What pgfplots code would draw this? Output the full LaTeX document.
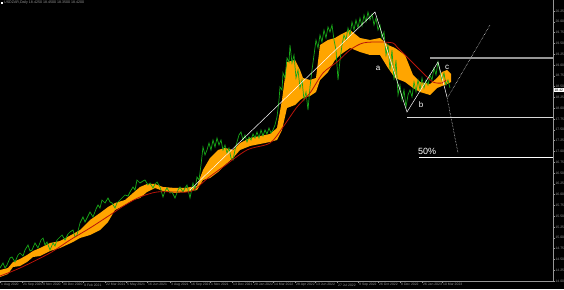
\documentclass[border=0pt]{standalone}
\usepackage{pgfplots}
\pgfplotsset{compat=1.18}
\usepackage{fontspec}
\setmainfont{Liberation Sans}
\definecolor{mtgreen}{RGB}{24,168,24}
\definecolor{mtorange}{RGB}{255,165,0}
\definecolor{mtred}{RGB}{185,20,10}
\definecolor{mtgrey}{RGB}{150,150,150}
\begin{document}
\begin{tikzpicture}
\fill[black] (0pt,0pt) rectangle (564pt,289pt);
\node[anchor=north west, inner sep=0pt, font=\fontsize{3.6}{4}\selectfont, text=mtgrey] at (1pt,288pt) {\textcolor{white}{\rule{2pt}{2pt}} USDZAR,Daily 18.4250 18.4500 18.3500 18.4200};
\begin{axis}[at={(0pt,8pt)}, anchor=south west, width=553pt, height=281pt, scale only axis,
  xmin=0, xmax=553, ymin=-281, ymax=0, clip=false,
  axis x line*=bottom, axis y line*=right,
  axis line style={mtgrey, line width=0.6pt},
  tick style={mtgrey, line width=0.4pt}, major tick length=2pt, tick align=outside,
  xtick={0,22,42,62,83,105,126,147,170,190,210,232,253,273,295,315,337,358,378,400,422,442},
  xticklabels={1 Aug 2020,21 Sep 2020,9 Nov 2020,30 Dec 2020,9 Feb 2021,22 Mar 2021,5 May 2021,16 Jun 2021,3 Aug 2021,16 Sep 2021,1 Nov 2021,13 Dec 2021,28 Jan 2022,14 Mar 2022,28 Apr 2022,13 Jun 2022,27 Jul 2022,9 Sep 2022,26 Oct 2022,8 Dec 2022,26 Jan 2023,10 Mar 2023},
  xticklabel style={font=\fontsize{3.4}{4}\selectfont, text=mtgrey, anchor=north west, inner sep=0.4pt, xshift=0.6pt},
  ytick={-281,-270.2,-259.4,-248.6,-237.8,-227,-216.2,-205.4,-194.6,-183.8,-173,-162.2,-151.4,-140.6,-129.8,-119,-108.2,-97.4,-86.6,-75.8,-65,-54.2,-43.4,-32.6,-21.8,-11},
  yticklabels={14.00,14.25,14.50,14.75,15.00,15.25,15.50,15.75,16.00,16.25,16.50,16.75,17.00,17.25,17.50,17.75,18.00,18.25,18.50,18.75,19.00,19.25,19.50,19.75,20.00,20.25},
  yticklabel style={font=\fontsize{3.4}{4}\selectfont, text=mtgrey, anchor=west, inner sep=0.4pt},
]
% cloud: upper edge left to right, then lower edge right to left
\addplot[fill=mtorange, draw=none] coordinates {(0,-270)(8,-268)(13,-262)(20,-259)(27,-255)(33,-251)(40,-248)(50,-243)(60,-241)(73,-234)(80,-230)(90,-220)(100,-213)(108,-207)(115,-203)(125,-200)(133,-193)(140,-187)(147,-184)(155,-184)(163,-187)(175,-188)(185,-188)(197,-186)(203,-170)(210,-158)(218,-150)(225,-148)(233,-150)(240,-143)(250,-138)(260,-136)(270,-134)(277,-128)(282,-100)(287,-62)(295,-60)(300,-70)(303,-78)(310,-80)(316,-78)(320,-45)(328,-40)(335,-38)(340,-35)(350,-30)(360,-38)(370,-40)(380,-38)(388,-45)(395,-48)(405,-55)(413,-75)(420,-82)(430,-84)(437,-78)(442,-72)(447,-70)(451,-74)
(451,-82)(447,-84)(442,-86)(437,-88)(430,-95)(420,-92)(413,-88)(405,-82)(395,-78)(388,-68)(380,-55)(370,-55)(360,-52)(350,-48)(340,-55)(335,-60)(328,-72)(320,-80)(316,-92)(310,-96)(303,-98)(300,-100)(295,-105)(287,-108)(282,-130)(277,-140)(270,-142)(260,-144)(250,-146)(240,-150)(233,-158)(225,-165)(218,-172)(210,-178)(203,-180)(197,-190)(185,-192)(175,-193)(163,-191)(155,-188)(147,-192)(140,-198)(133,-200)(125,-205)(115,-210)(108,-222)(100,-230)(90,-235)(80,-238)(73,-242)(60,-248)(50,-251)(40,-256)(33,-257)(27,-262)(20,-266)(13,-267)(8,-274)(0,-277)} -- cycle;
% price
\addplot[mtgreen, line width=0.7pt] coordinates {(0,-268)(3,-263)(5,-268)(7,-265)(10,-258)(12,-257)(15,-262)(18,-255)(20,-253)(23,-256)(25,-250)(28,-245)(30,-251)(32,-250)(35,-243)(38,-248)(41,-240)(43,-238)(45,-245)(47,-242)(50,-250)(53,-243)(55,-246)(57,-240)(60,-237)(62,-235)(65,-240)(68,-234)(70,-232)(73,-230)(75,-237)(77,-235)(80,-223)(83,-217)(85,-222)(87,-218)(90,-212)(93,-217)(96,-209)(98,-205)(100,-208)(102,-200)(105,-203)(108,-198)(110,-202)(112,-203)(115,-208)(117,-203)(120,-200)(123,-197)(125,-195)(128,-196)(130,-192)(133,-187)(135,-190)(137,-180)(140,-183)(143,-181)(145,-180)(148,-185)(150,-183)(153,-188)(155,-184)(157,-182)(160,-187)(163,-197)(165,-191)(167,-188)(170,-193)(172,-192)(175,-198)(178,-190)(180,-187)(183,-192)(185,-188)(187,-185)(190,-198)(193,-183)(195,-190)(197,-177)(199,-180)(201,-165)(203,-147)(205,-155)(207,-150)(209,-143)(211,-150)(213,-140)(215,-147)(217,-138)(219,-145)(221,-140)(223,-150)(225,-145)(227,-153)(229,-148)(231,-158)(233,-160)(235,-150)(237,-142)(239,-135)(241,-132)(243,-140)(245,-135)(247,-142)(249,-137)(251,-140)(253,-134)(255,-138)(257,-132)(259,-138)(261,-130)(263,-136)(265,-130)(267,-134)(269,-128)(271,-133)(273,-130)(275,-125)(277,-117)(279,-100)(280,-87)(282,-90)(283,-73)(285,-78)(287,-58)(289,-62)(290,-45)(292,-63)(294,-55)(296,-78)(298,-70)(300,-88)(302,-80)(304,-100)(306,-92)(308,-110)(310,-87)(312,-70)(314,-55)(316,-40)(318,-48)(320,-35)(322,-42)(324,-30)(326,-38)(328,-27)(330,-32)(332,-25)(334,-40)(336,-50)(338,-80)(340,-60)(342,-45)(344,-35)(346,-40)(348,-28)(350,-35)(352,-22)(354,-30)(356,-20)(358,-28)(360,-18)(362,-26)(364,-15)(366,-22)(368,-12)(370,-20)(372,-14)(374,-25)(376,-18)(378,-30)(380,-25)(382,-38)(384,-32)(386,-55)(388,-45)(390,-70)(392,-50)(394,-80)(396,-60)(398,-95)(400,-85)(402,-100)(404,-90)(406,-107)(408,-95)(410,-90)(412,-97)(414,-82)(416,-92)(418,-80)(420,-90)(422,-78)(424,-88)(426,-80)(428,-85)(430,-75)(432,-80)(434,-68)(436,-75)(438,-62)(440,-72)(442,-80)(444,-73)(446,-85)(448,-80)(450,-88)};
% moving average
\addplot[mtred, line width=0.8pt, smooth] coordinates {(0,-276)(20,-268)(50,-253)(70,-240)(90,-228)(110,-215)(125,-205)(140,-197)(157,-192)(177,-192)(192,-191)(208,-178)(223,-167)(247,-150)(270,-143)(283,-127)(297,-107)(310,-93)(323,-73)(337,-62)(350,-50)(363,-43)(380,-42)(393,-43)(397,-47)(410,-60)(423,-73)(433,-82)(442,-83)(446,-80)};
% wave lines
\addplot[white, line width=0.5pt] coordinates {(190,-190)(375,-12)(407,-112)(438,-62)(447,-97)};
\addplot[white, densely dotted, line width=0.5pt] coordinates {(447,-97)(458,-153)};
\addplot[white, densely dotted, line width=0.5pt] coordinates {(448,-97)(490,-25)};
% levels
\addplot[mtgrey, line width=1.2pt] coordinates {(430,-58)(553,-58)};
\addplot[white!85!black, line width=0.6pt] coordinates {(407,-117)(553,-117)};
\addplot[white, line width=0.6pt] coordinates {(419,-157)(553,-157)};
\node[text=white, font=\fontsize{8}{8}\selectfont] at (axis cs:378,-68) {a};
\node[text=white, font=\fontsize{8}{8}\selectfont] at (axis cs:421,-105) {b};
\node[text=white, font=\fontsize{8}{8}\selectfont] at (axis cs:447,-67) {c};
\node[text=white, font=\fontsize{9}{9}\selectfont, anchor=west, inner sep=0pt] at (axis cs:418,-151) {50\%};
\node[fill=white, text=black, anchor=west, inner sep=0.4pt, font=\fontsize{3.4}{4}\selectfont] at (axis cs:554,-90) {18.42};
\end{axis}
\pgfresetboundingbox
\useasboundingbox (0pt,0pt) rectangle (564pt,289pt);
\end{tikzpicture}
\end{document}
